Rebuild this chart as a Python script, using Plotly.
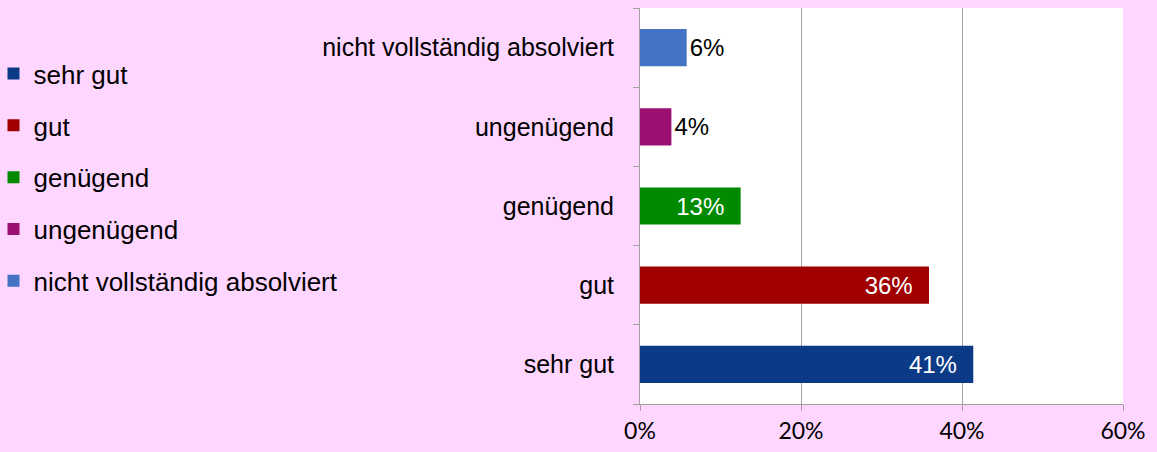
import plotly.graph_objects as go

categories = ["sehr gut", "gut", "genügend", "ungenügend", "nicht vollständig absolviert"]
values = [41.4, 35.9, 12.5, 3.9, 5.8]
labels = ["41%", "36%", "13%", "4%", "6%"]
colors = ["#0B3A87", "#A00000", "#008A00", "#9B1070", "#4472C4"]
x_ticks = [0, 20, 40, 60]
x_tick_labels = ["0%", "20%", "40%", "60%"]

FONT = "Liberation Sans, Arial, sans-serif"

fig = go.Figure()
for cat, val, lab, col in zip(categories, values, labels, colors):
    inside = val > 10
    fig.add_trace(go.Bar(
        x=[val], y=[cat], orientation="h", name=cat,
        legendgroup=cat,
        marker=dict(color=col, line=dict(width=0)),
        text=[lab + ("\u00a0\u00a0" if inside else "")],
        textposition="inside" if inside else "outside",
        insidetextanchor="end",
        textfont=dict(family=FONT, size=24, color="white" if inside else "black"),
        cliponaxis=False,
        hoverinfo="skip",
    ))

fig.update_layout(
    width=1157, height=452,
    paper_bgcolor="#FFD6FF",
    plot_bgcolor="white",
    margin=dict(l=640, r=34, t=8, b=48, autoexpand=False),
    barmode="overlay",
    bargap=0.53,
    uniformtext=dict(minsize=24, mode="show"),
    font=dict(family=FONT, size=24, color="black"),
    showlegend=True,
    legend=dict(
        xref="paper", yref="container",
        x=-1.3385, y=0.889, xanchor="left", yanchor="top",
        traceorder="grouped",
        tracegroupgap=15,
        maxheight=1.0,
        bgcolor="rgba(0,0,0,0)",
        font=dict(family=FONT, size=26, color="black"),
        itemwidth=30,
    ),
    xaxis=dict(
        range=[0, 60], tickvals=x_ticks, ticktext=x_tick_labels,
        showgrid=True, gridcolor="#A0A0A0", gridwidth=1,
        showline=True, linecolor="#A0A0A0", linewidth=1,
        ticks="outside", ticklen=6, tickcolor="#A0A0A0",
        tickfont=dict(family="Lato, sans-serif", size=23),
        zeroline=False,
    ),
    yaxis=dict(
        categoryorder="array", categoryarray=categories,
        showline=True, linecolor="#A0A0A0", linewidth=1,
        ticks="outside", ticklen=6, tickcolor="#A0A0A0",
        tickson="boundaries",
        ticklabelstandoff=20,
        tickfont=dict(family=FONT, size=25),
        showgrid=False,
    ),
)

fig.write_html(
    "out.html",
    config={"displayModeBar": False},
    post_script="document.body.style.margin='0';document.body.style.background='#FFD6FF';",
)
